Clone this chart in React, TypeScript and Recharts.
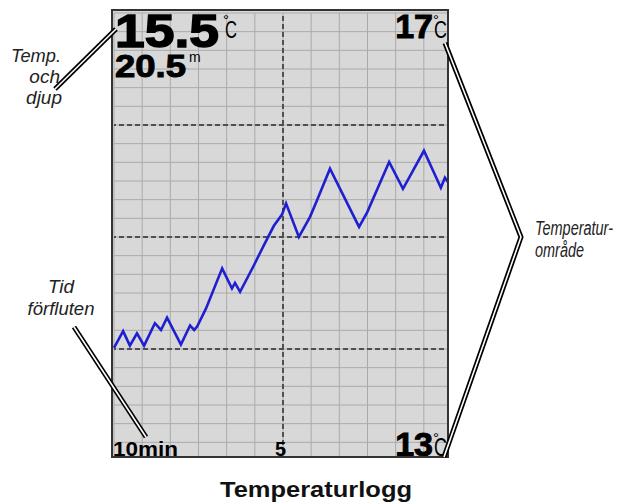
import React from 'react';
import { LineChart, Line, XAxis, YAxis, CartesianGrid, ReferenceLine } from 'recharts';

// minutes before now (10 = left edge, 0 = right edge)
const minutesAgo = [
  10.0, 9.73, 9.53, 9.32, 9.11, 8.79, 8.61, 8.43, 8.02, 7.75, 7.63, 7.54, 7.28,
  6.8, 6.51, 6.42, 6.27, 5.89, 5.56, 5.27, 5.03, 4.91, 4.53, 4.2, 3.99, 3.61,
  2.75, 2.51, 1.86, 1.45, 0.83, 0.33, 0.21, 0.12,
];
// water temperature, °C
const tempC = [
  14.01, 14.16, 14.03, 14.14, 14.03, 14.23, 14.17, 14.28, 14.04, 14.21, 14.17, 14.2, 14.36,
  14.72, 14.54, 14.59, 14.51, 14.73, 14.93, 15.1, 15.2, 15.3, 15.0, 15.18, 15.33, 15.61,
  15.09, 15.22, 15.67, 15.43, 15.77, 15.44, 15.53, 15.49,
];

const timeLabelTicks = [10, 5];
const timeLabels = ['10min', '5'];
const tempRange = [13, 17];
const dashedTemps = [14, 15, 16];
const dashedTime = 5;

const currentTemp = '15.5';
const currentDepth = '20.5';

const data = minutesAgo.map((m, i) => ({ ago: m, temp: tempC[i] }));

// fine grid: 12 columns, 24 rows
const xGridTicks = Array.from({ length: 13 }, (_, i) => (i * 10) / 12);
const yGridTicks = Array.from({ length: 25 }, (_, i) => 13 + (i * 4) / 24);

const FONT = '"Liberation Sans", Arial, Helvetica, sans-serif';
const PLOT_BOTTOM = 461;
const PLOT_TOP = 13;
const PLOT_RIGHT = 452;

const XTick = (props: any) => {
  const { x, payload } = props;
  const idx = timeLabelTicks.indexOf(payload.value);
  if (idx < 0) return <g />;
  const first = idx === 0;
  return (
    <text
      x={first ? x - 1 : x - 2.5}
      y={PLOT_BOTTOM - 5.5}
      textAnchor={first ? 'start' : 'middle'}
      fontFamily={FONT}
      fontWeight="bold"
      fontSize={first ? 21 : 20}
      fill="#000"
      textLength={first ? 65 : undefined}
      lengthAdjust="spacingAndGlyphs"
    >
      {timeLabels[idx]}
    </text>
  );
};

const YTick = (props: any) => {
  const { payload } = props;
  if (payload.value !== tempRange[0] && payload.value !== tempRange[1]) return <g />;
  const top = payload.value === tempRange[1];
  const x = PLOT_RIGHT;
  const base = top ? PLOT_TOP + 24.5 : PLOT_BOTTOM - 5;
  return (
    <g>
      <text
        x={x - 19}
        y={base}
        textAnchor="end"
        fontFamily={FONT}
        fontWeight="bold"
        fontSize={34}
        fill="#000"
        stroke="#000"
        strokeWidth={1}
      >
        {payload.value}
      </text>
      <text x={x - 19} y={top ? PLOT_TOP + 12 : PLOT_BOTTOM - 18} fontFamily={FONT} fontSize={15} fill="#000">
        °
      </text>
      <text
        x={x - 18}
        y={base}
        fontFamily={FONT}
        fontSize={top ? 23 : 25}
        fill="#000"
        textLength={13}
        lengthAdjust="spacingAndGlyphs"
      >
        C
      </text>
    </g>
  );
};

const DoubleLine = ({ points }: { points: string }) => (
  <g>
    <polyline points={points} fill="none" stroke="#000" strokeWidth={5} strokeLinejoin="miter" />
    <polyline points={points} fill="none" stroke="#fff" strokeWidth={1.6} strokeLinejoin="miter" />
  </g>
);

const noteStyle = {
  fontFamily: FONT,
  fontStyle: 'italic' as const,
  fontSize: 19,
  fill: '#222',
};

export default function App() {
  return (
    <div style={{ position: 'absolute', left: 0, top: 0, width: 632, height: 504, background: '#fff' }}>
      <div
        style={{
          position: 'absolute',
          left: 112,
          top: 10,
          width: 337,
          height: 448,
          overflow: 'hidden',
          background: '#d8d8d8',
        }}
      >
        <div style={{ position: 'absolute', left: -112, top: -10 }}>
          <LineChart width={632} height={504} data={data} margin={{ top: 13, right: 179, bottom: 42, left: 114 }}>
            <CartesianGrid stroke="#aaaaaa" strokeWidth={1} />
            <XAxis
              type="number"
              dataKey="ago"
              domain={[0, 10]}
              reversed
              ticks={xGridTicks}
              interval={0}
              axisLine={false}
              tickLine={false}
              height={1}
              tick={<XTick />}
            />
            <YAxis
              type="number"
              orientation="right"
              domain={tempRange}
              ticks={yGridTicks}
              interval={0}
              axisLine={false}
              tickLine={false}
              width={1}
              tick={<YTick />}
            />
            {dashedTemps.map((t) => (
              <ReferenceLine key={t} y={t} stroke="#505050" strokeWidth={2} strokeDasharray="5 3" />
            ))}
            <ReferenceLine x={dashedTime} stroke="#505050" strokeWidth={2} strokeDasharray="5 3" />
            <Line
              type="linear"
              dataKey="temp"
              stroke="#1f1fd1"
              strokeWidth={2.6}
              dot={false}
              isAnimationActive={false}
            />
          </LineChart>
        </div>
      </div>
      <svg
        width={632}
        height={504}
        style={{ position: 'absolute', left: 0, top: 0, pointerEvents: 'none' }}
      >
        <rect x={112} y={10} width={336} height={447} fill="none" stroke="#333" strokeWidth={2} />

        {/* current readout */}
        <text
          x={115}
          y={46.5}
          fontFamily={FONT}
          fontWeight="bold"
          fontSize={47}
          fill="#000"
          stroke="#000"
          strokeWidth={1.5}
          textLength={104}
          lengthAdjust="spacingAndGlyphs"
        >
          {currentTemp}
        </text>
        <text x={223} y={25} fontFamily={FONT} fontSize={15} fill="#000">°</text>
        <text x={225} y={38} fontFamily={FONT} fontSize={24} fill="#000" textLength={12} lengthAdjust="spacingAndGlyphs">
          C
        </text>
        <text
          x={115}
          y={77}
          fontFamily={FONT}
          fontWeight="bold"
          fontSize={32}
          fill="#000"
          stroke="#000"
          strokeWidth={1}
          textLength={71}
          lengthAdjust="spacingAndGlyphs"
        >
          {currentDepth}
        </text>
        <text x={189} y={62} fontFamily={FONT} fontSize={14} fill="#000">m</text>

        {/* callouts */}
        <DoubleLine points="55,89 116,29" />
        <DoubleLine points="74,327 146,437" />
        <DoubleLine points="445,43 521,237 444,457" />

        <text x={61} y={62} textAnchor="end" {...noteStyle} textLength={50} lengthAdjust="spacingAndGlyphs">Temp.</text>
        <text x={60} y={83} textAnchor="end" {...noteStyle}>och</text>
        <text x={62} y={104} textAnchor="end" {...noteStyle}>djup</text>

        <text x={61} y={293} textAnchor="middle" {...noteStyle}>Tid</text>
        <text x={61} y={315} textAnchor="middle" {...noteStyle} textLength={67} lengthAdjust="spacingAndGlyphs">förfluten</text>

        <text x={535} y={235} {...noteStyle} fontSize={20} textLength={78} lengthAdjust="spacingAndGlyphs">Temperatur-</text>
        <text x={535} y={257} {...noteStyle} fontSize={20} textLength={49} lengthAdjust="spacingAndGlyphs">område</text>

        <text
          x={316}
          y={497}
          textAnchor="middle"
          fontFamily={FONT}
          fontWeight="bold"
          fontSize={22}
          fill="#111"
          textLength={192}
          lengthAdjust="spacingAndGlyphs"
        >
          Temperaturlogg
        </text>
      </svg>
    </div>
  );
}
